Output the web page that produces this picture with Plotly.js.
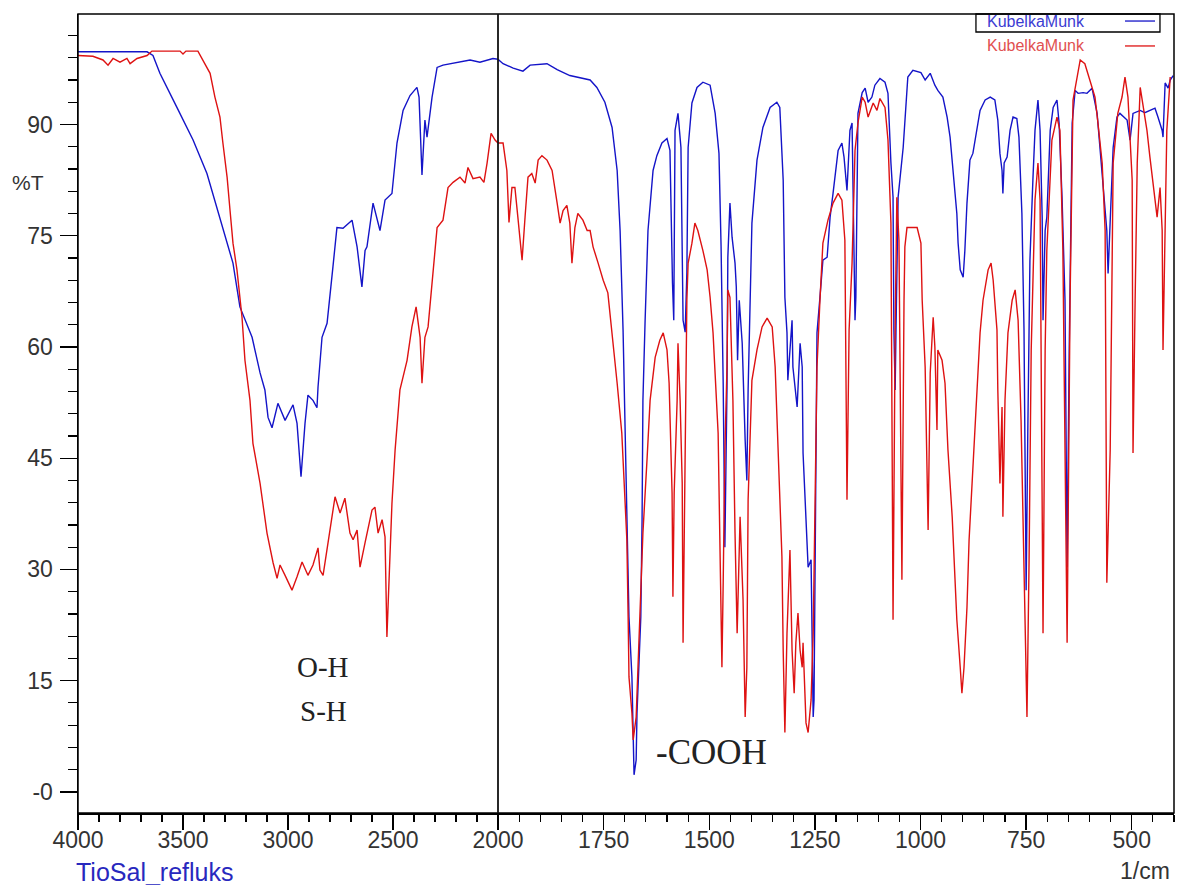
<!DOCTYPE html>
<html>
<head>
<meta charset="utf-8">
<script src="https://cdn.plot.ly/plotly-3.0.1.min.js"></script>
<style>
html,body{margin:0;padding:0;background:#fff;}
#chart{width:1177px;height:885px;}
</style>
</head>
<body>
<div id="chart"></div>
<script>
// Wavenumbers (1/cm) and %T for the blue spectrum
var blueWavenumber = [4000,3671,3643,3610,3529,3452,3386,3324,3262,3229,3171,3133,3110,3095,3076,3048,3014,2976,2957,2938,2919,2905,2881,2862,2857,2838,2814,2786,2767,2738,2695,2671,2648,2633,2624,2595,2562,2538,2505,2481,2452,2419,2386,2376,2362,2348,2338,2314,2290,2262,2181,2133,2086,2024,2000,
1988,1964,1941,1924,1884,1860,1830,1782,1766,1747,1730,1718,1711,1704,1699,1695,1690,1683,1680,1678,1673,1671,1666,1662,1659,1657,1652,1645,1633,1624,1612,1600,1593,1590,1587,1584,1581,1574,1567,1562,1557,1553,1550,1541,1529,1515,1498,1486,1477,1472,1467,1463,1458,1456,1451,1446,1439,1436,1433,1429,1422,1415,1411,1408,1404,1399,1387,1373,1356,1340,1333,1325,1321,1316,1314,1304,1302,1292,1285,1280,1278,1269,1266,1259,1254,1252,1250,1245,1238,1231,1221,1214,1207,1195,1186,1181,1174,1167,1162,1160,1155,1153,1148,1138,1131,1124,1115,1108,1096,1084,1077,1070,1065,1063,1060,1058,1053,1041,1034,1030,1018,999,989,977,966,959,947,937,930,923,914,911,906,899,895,890,883,876,866,859,847,835,824,817,812,807,805,802,795,788,781,772,767,760,755,750,746,741,734,729,722,717,712,710,705,701,693,686,677,672,665,658,653,648,641,634,627,615,606,594,582,575,568,559,556,551,544,535,528,511,504,497,480,469,457,445,438,428,426,421,414,409,402];
var blueTransmittance = [99.8,99.8,99.3,96.9,92.3,87.9,83.4,77.5,71.3,65.4,61.3,56.5,54.2,50.5,49.1,52.4,50.1,52.2,49.7,42.5,49.7,53.5,52.8,51.8,54.6,61.3,63.2,70.8,76.1,76.0,77.1,73.5,68.1,73.0,73.5,79.4,75.7,79.8,80.7,87.5,91.9,93.9,95.0,93.7,83.2,90.6,88.3,93.7,97.7,98.0,98.4,98.7,98.4,98.9,98.8,
98.2,97.6,97.2,98.0,98.2,97.4,96.6,96.0,95.0,93.0,89.6,83.8,75.7,62.3,47.4,34.9,23.6,15.5,6.6,2.3,4.3,10.6,17.8,23.6,36.7,52.8,63.2,75.7,83.8,85.8,87.5,88.1,86.5,76.7,68.6,63.6,89.2,91.5,86.9,63.6,62.0,70.0,86.9,92.9,95.0,95.7,95.3,91.5,86.1,73.5,55.0,33.0,54.6,72.1,79.4,74.8,71.3,68.1,58.2,66.3,60.5,47.4,42.0,54.2,66.3,76.7,85.2,89.6,92.3,93.0,92.3,82.5,66.7,61.9,55.5,63.6,57.3,51.9,60.5,57.3,45.7,33.6,30.3,31.3,10.1,12.4,26.8,61.9,66.7,71.7,72.1,77.5,80.7,86.5,87.5,85.6,81.1,89.2,90.2,82.5,63.6,66.7,91.5,94.3,94.9,93.0,93.7,95.3,96.2,95.7,94.2,84.8,80.2,62.3,54.2,62.3,80.2,86.9,93.7,96.4,97.3,97.0,96.0,96.9,95.3,94.6,93.7,91.0,88.3,83.4,78.0,74.0,70.4,69.4,73.0,79.4,85.2,86.1,89.2,91.9,93.3,93.7,93.3,90.6,86.1,83.8,80.7,84.8,85.6,89.2,91.0,90.8,88.3,78.0,62.3,27.2,48.8,71.7,82.5,89.2,93.3,89.2,77.5,63.6,75.7,77.5,89.2,92.3,93.3,90.2,80.2,66.3,30.3,59.6,90.2,94.6,94.2,94.3,94.2,94.9,91.5,86.9,82.5,75.7,69.9,77.1,86.9,91.0,91.5,90.6,87.9,91.5,91.9,91.6,91.9,92.2,91.0,89.2,88.3,95.6,94.9,96.0,96.6];

// Wavenumbers (1/cm) and %T for the red spectrum
var redWavenumber = [4000,3929,3881,3857,3833,3800,3767,3752,3719,3671,3648,3514,3500,3486,3429,3405,3371,3348,3324,3310,3290,3276,3262,3243,3219,3205,3181,3167,3133,3100,3071,3052,3038,3014,2981,2957,2933,2905,2881,2857,2848,2833,2814,2790,2776,2752,2729,2705,2690,2671,2657,2633,2600,2586,2571,2552,2538,2529,2519,2505,2490,2467,2433,2410,2390,2371,2362,2348,2333,2314,2290,2262,2238,2214,2181,2157,2143,2119,2086,2067,2052,2033,2014,2000,
1988,1979,1974,1967,1960,1953,1943,1936,1929,1920,1912,1905,1896,1884,1872,1860,1853,1846,1837,1830,1825,1818,1811,1799,1789,1782,1775,1763,1751,1740,1730,1718,1707,1702,1695,1692,1690,1683,1680,1673,1669,1664,1657,1647,1640,1628,1617,1609,1600,1595,1588,1586,1583,1576,1574,1569,1564,1562,1557,1553,1550,1541,1534,1527,1515,1505,1498,1491,1479,1475,1470,1467,1463,1458,1456,1451,1444,1439,1434,1427,1420,1415,1411,1408,1399,1387,1375,1363,1351,1344,1337,1328,1325,1321,1316,1309,1304,1299,1295,1290,1285,1280,1278,1271,1266,1259,1254,1250,1245,1238,1231,1219,1207,1195,1186,1179,1174,1169,1162,1155,1148,1138,1131,1124,1119,1112,1103,1096,1084,1077,1070,1065,1060,1056,1051,1044,1039,1037,1032,1020,1008,999,996,989,985,982,977,970,966,961,959,949,942,935,925,918,914,906,902,897,890,885,876,866,859,852,840,833,828,819,817,812,807,805,800,793,783,776,769,762,755,748,743,738,729,722,717,710,705,701,689,677,670,663,653,646,639,622,611,599,587,580,570,563,559,551,547,544,533,523,516,509,499,497,492,487,480,473,464,457,450,440,433,428,426,421,417,409];
var redTransmittance = [99.3,99.2,98.7,98.0,98.9,98.4,98.9,98.2,98.9,99.3,99.9,99.9,99.5,99.9,99.9,98.7,96.9,93.7,91.0,87.5,82.9,78.4,74.0,70.4,64.0,58.2,52.8,47.0,41.6,34.9,30.9,28.8,30.6,29.2,27.2,29.0,31.0,29.2,30.6,32.9,29.9,29.2,32.6,37.1,39.8,37.6,39.6,34.9,34.0,35.3,30.3,33.6,38.0,38.4,34.9,36.7,34.4,20.9,29.5,38.9,46.1,54.2,58.2,62.7,65.4,61.3,55.1,61.3,62.7,69.0,76.1,77.1,81.5,82.2,82.9,82.1,84.2,82.7,82.9,82.2,84.8,88.8,87.9,87.5,
87.5,83.8,76.8,81.5,81.5,77.5,71.7,77.5,82.9,83.4,82.1,85.2,85.8,85.2,83.8,79.4,76.7,78.4,79.1,76.7,71.3,76.1,78.0,77.1,75.7,75.7,73.5,71.3,69.0,67.3,61.9,55.1,48.4,41.6,34.0,23.6,15.5,10.6,7.0,10.1,16.8,23.6,34.9,45.1,52.8,58.6,60.9,61.9,59.6,55.1,40.3,26.3,40.3,52.8,60.5,52.8,41.6,20.1,43.8,66.3,71.3,74.0,76.7,75.7,73.0,70.4,66.7,61.9,48.4,34.9,16.8,28.2,46.1,57.3,67.7,66.7,52.8,34.9,21.4,37.1,25.9,10.1,16.8,39.4,55.5,59.6,62.7,63.9,62.7,57.3,46.1,31.7,19.1,8.0,21.4,32.6,19.1,13.3,20.1,24.1,19.1,16.8,20.1,9.3,8.0,12.4,21.4,39.4,57.3,66.3,74.0,77.1,79.4,80.7,79.8,74.4,39.4,62.3,71.3,86.5,90.2,93.7,93.0,91.0,91.9,92.9,91.9,93.5,92.3,87.9,76.7,23.2,62.3,80.2,74.4,28.6,66.3,73.5,76.1,76.1,76.1,74.0,66.3,57.3,42.0,35.3,56.5,64.0,60.0,48.8,59.6,58.2,55.1,46.1,37.1,28.2,23.2,16.8,13.3,16.8,24.9,34.0,43.8,55.1,61.9,66.3,70.4,71.3,69.0,62.3,54.2,41.6,51.9,37.1,52.8,61.9,66.3,67.7,63.6,50.1,31.3,10.1,31.3,59.6,79.8,84.8,79.8,21.4,59.6,73.0,87.9,91.0,89.2,73.0,20.1,66.3,93.3,98.7,98.2,96.0,93.7,90.2,84.8,75.7,28.2,46.1,66.3,84.8,91.5,93.7,96.4,93.7,82.5,45.7,66.3,84.8,95.0,92.3,89.2,85.6,82.5,77.5,81.5,75.7,59.6,79.8,89.2,96.4];

// Axis tick values and labels
var leftTicks = [4000,3500,3000,2500,2000];
var rightTicks = [1750,1500,1250,1000,750,500];
var yTicks = [0,15,30,45,60,75,90];
var yTickText = ['-0','15','30','45','60','75','90'];
var seriesName = 'KubelkaMunk';

var BLUE = 'rgb(20,20,200)';
var RED = 'rgb(222,18,18)';

function part(wn, t, left) {
  var xs = [], ys = [];
  for (var i = 0; i < wn.length; i++) {
    if ((left && wn[i] >= 2000) || (!left && wn[i] <= 2000)) { xs.push(wn[i]); ys.push(t[i]); }
  }
  return {x: xs, y: ys};
}

var traces = [];
[[blueWavenumber, blueTransmittance, BLUE], [redWavenumber, redTransmittance, RED]].forEach(function (s) {
  var L = part(s[0], s[1], true), R = part(s[0], s[1], false);
  traces.push({x: L.x, y: L.y, xaxis: 'x', yaxis: 'y', mode: 'lines', line: {color: s[2], width: 1.4}, showlegend: false, hoverinfo: 'skip'});
  traces.push({x: R.x, y: R.y, xaxis: 'x2', yaxis: 'y', mode: 'lines', line: {color: s[2], width: 1.4}, showlegend: false, hoverinfo: 'skip'});
});

var tickFont = {family: 'Liberation Sans, Arial, sans-serif', size: 23, color: '#333'};
var split = 420 / 1096;

var layout = {
  width: 1177, height: 885,
  margin: {l: 78, r: 3, t: 14, b: 72},
  paper_bgcolor: '#fff', plot_bgcolor: '#fff',
  showlegend: false,
  xaxis: {
    domain: [0, split], range: [4000, 2000], anchor: 'y',
    tickmode: 'array', tickvals: leftTicks, ticktext: leftTicks.map(String),
    ticks: 'outside', ticklen: 15, tickwidth: 1.3, tickcolor: '#000',
    ticklabelstandoff: -9,
    showline: true, linecolor: '#000', linewidth: 1.5,
    showgrid: false, zeroline: false, tickfont: tickFont,
    minor: {tickmode: 'linear', tick0: 0, dtick: 100, ticks: 'outside', ticklen: 7, tickwidth: 1.2, tickcolor: '#000', showgrid: false}
  },
  xaxis2: {
    domain: [split, 1], range: [2000, 400], anchor: 'y',
    tickmode: 'array', tickvals: rightTicks, ticktext: rightTicks.map(String),
    ticks: 'outside', ticklen: 15, tickwidth: 1.3, tickcolor: '#000',
    ticklabelstandoff: -9,
    showline: true, linecolor: '#000', linewidth: 1.5,
    showgrid: false, zeroline: false, tickfont: tickFont,
    minor: {tickmode: 'linear', tick0: 0, dtick: 50, ticks: 'outside', ticklen: 7, tickwidth: 1.2, tickcolor: '#000', showgrid: false}
  },
  yaxis: {
    range: [-2.85, 104.9], anchor: 'x',
    tickmode: 'array', tickvals: yTicks, ticktext: yTickText,
    ticks: 'outside', ticklen: 17, tickwidth: 1.3, tickcolor: '#000',
    ticklabelstandoff: 2,
    showline: true, linecolor: '#000', linewidth: 1.5,
    showgrid: false, zeroline: false, tickfont: tickFont,
    minor: {tickmode: 'linear', tick0: 0, dtick: 3, ticks: 'outside', ticklen: 9, tickwidth: 1.2, tickcolor: '#000', showgrid: false}
  },
  shapes: [
    {type: 'rect', xref: 'paper', yref: 'paper', x0: 0, x1: 1, y0: 0, y1: 1, line: {color: '#000', width: 1.5}},
    {type: 'line', xref: 'paper', yref: 'paper', x0: split, x1: split, y0: 0, y1: 1, line: {color: '#111', width: 1.8}},
    {type: 'rect', xref: 'paper', yref: 'paper', x0: 0.8193, x1: 0.9872, y0: 0.9775, y1: 1.0, line: {color: '#000', width: 1.3}},
    {type: 'line', xref: 'paper', yref: 'paper', x0: 0.9553, x1: 0.9827, y0: 0.9912, y1: 0.9912, line: {color: BLUE, width: 1.3}},
    {type: 'line', xref: 'paper', yref: 'paper', x0: 0.9553, x1: 0.9827, y0: 0.960, y1: 0.960, line: {color: RED, width: 1.3}}
  ],
  annotations: [
    {xref: 'paper', yref: 'paper', x: 0.8276, y: 0.9912, xanchor: 'left', yanchor: 'middle', showarrow: false, text: seriesName, font: {family: 'Liberation Sans, Arial, sans-serif', size: 16, color: 'rgb(60,60,210)'}},
    {xref: 'paper', yref: 'paper', x: 0.8276, y: 0.960, xanchor: 'left', yanchor: 'middle', showarrow: false, text: seriesName, font: {family: 'Liberation Sans, Arial, sans-serif', size: 16, color: 'rgb(225,80,80)'}},
    {xref: 'paper', yref: 'paper', x: -0.0456, y: 0.7897, xanchor: 'center', yanchor: 'middle', showarrow: false, text: '%T', font: {family: 'Liberation Sans, Arial, sans-serif', size: 21, color: '#333'}},
    {xref: 'x', yref: 'y', x: 2833, y: 16.9, xanchor: 'center', yanchor: 'middle', showarrow: false, text: 'O-H', font: {family: 'Liberation Serif, Times New Roman, serif', size: 29, color: '#222'}},
    {xref: 'x', yref: 'y', x: 2833, y: 10.9, xanchor: 'center', yanchor: 'middle', showarrow: false, text: 'S-H', font: {family: 'Liberation Serif, Times New Roman, serif', size: 29, color: '#222'}},
    {xref: 'x2', yref: 'y', x: 1494, y: 5.3, xanchor: 'center', yanchor: 'middle', showarrow: false, text: '-COOH', font: {family: 'Liberation Serif, Times New Roman, serif', size: 35, color: '#222'}},
    {xref: 'paper', yref: 'paper', x: -0.004, y: -0.074, xanchor: 'left', yanchor: 'middle', showarrow: false, text: 'TioSal_refluks', font: {family: 'Liberation Sans, Arial, sans-serif', size: 25, color: 'rgb(40,40,190)'}},
    {xref: 'paper', yref: 'paper', x: 0.9735, y: -0.072, xanchor: 'center', yanchor: 'middle', showarrow: false, text: '1/cm', font: {family: 'Liberation Sans, Arial, sans-serif', size: 23, color: '#333'}}
  ]
};

Plotly.newPlot('chart', traces, layout, {displayModeBar: false, staticPlot: true});
</script>
</body>
</html>
